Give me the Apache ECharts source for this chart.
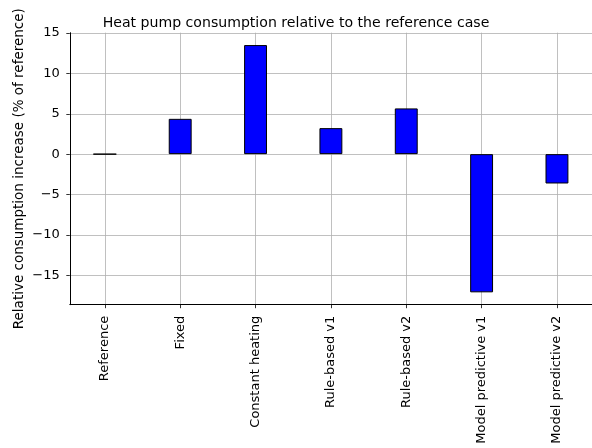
<!DOCTYPE html>
<html>
<head>
<meta charset="utf-8">
<script src="https://cdn.jsdelivr.net/npm/echarts@6/dist/echarts.min.js"></script>
<style>
  html, body { margin: 0; padding: 0; background: #fff; }
  #chart { width: 592px; height: 448px; }
</style>
</head>
<body>
<div id="chart"></div>
<script>
// Scenario names along the x axis
const categories = [
  'Reference', 'Fixed', 'Constant heating', 'Rule-based v1',
  'Rule-based v2', 'Model predictive v1', 'Model predictive v2'
];
// Consumption change versus the reference run, in percent
const relativeIncrease = [0, 4.37, 13.5, 3.22, 5.66, -17.1, -3.63];
// Y tick values
const yTicks = [-15, -10, -5, 0, 5, 10, 15];

const FONT = 'DejaVu Sans';
const chart = echarts.init(document.getElementById('chart'), null, { renderer: 'canvas' });

const positions = categories.map((_, i) => i);

chart.setOption({
  animation: false,
  backgroundColor: '#ffffff',
  title: {
    text: 'Heat pump consumption relative to the reference case',
    left: 'center',
    top: 11,
    textStyle: { fontFamily: FONT, fontSize: 14.1, fontWeight: 'normal', color: '#000' }
  },
  grid: { left: 69.8, right: -6.8, top: 32.7, bottom: 143.3, containLabel: false },
  xAxis: {
    type: 'value',
    min: -0.465,
    max: 6.465,
    axisLine: { show: true, onZero: false, lineStyle: { color: '#000', width: 1 } },
    axisTick: { show: true, length: 3.5, lineStyle: { color: '#000', width: 0.8 }, customValues: positions },
    axisLabel: {
      customValues: positions,
      rotate: 90,
      margin: 11,
      fontFamily: FONT, fontSize: 13, color: '#000',
      formatter: v => categories[Math.round(v)]
    },
    splitLine: { show: true, lineStyle: { color: '#b0b0b0', width: 0.8 } }
  },
  yAxis: {
    type: 'value',
    min: -18.63,
    max: 15.03,
    name: 'Relative consumption increase (% of reference)',
    nameLocation: 'middle',
    nameGap: 43,
    nameMoveOverlap: false,
    nameTextStyle: { fontFamily: FONT, fontSize: 13.5, color: '#000' },
    axisLine: { show: true, onZero: false, lineStyle: { color: '#000', width: 1 } },
    axisTick: { show: true, length: 3.5, lineStyle: { color: '#000', width: 0.8 }, customValues: yTicks },
    axisLabel: {
      customValues: yTicks,
      margin: 10,
      fontFamily: FONT, fontSize: 13, color: '#000',
      formatter: v => (v < 0 ? '\u2212' + Math.abs(v) : String(v))
    },
    splitLine: { show: true, lineStyle: { color: '#b0b0b0', width: 0.8 } }
  },
  series: [{
    type: 'bar',
    data: relativeIncrease.map((v, i) => [i, v]),
    barWidth: 22.9,
    itemStyle: { color: '#0000ff', borderColor: '#000000', borderWidth: 1 }
  }]
});
</script>
</body>
</html>
